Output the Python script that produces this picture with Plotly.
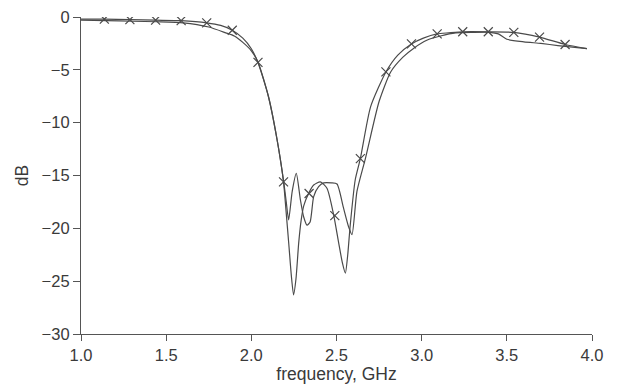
import plotly.graph_objects as go

# Curve with markers (deep notches)
freq_b = [1.0, 1.137, 1.287, 1.438, 1.588, 1.738, 1.82, 1.888, 1.95, 2.0, 2.039, 2.1, 2.15,
          2.189, 2.2035, 2.22, 2.235, 2.248, 2.262, 2.278, 2.292, 2.307, 2.336, 2.366, 2.405,
          2.444, 2.483, 2.513, 2.535, 2.552, 2.566, 2.58, 2.61, 2.64, 2.70, 2.79, 2.86, 2.94,
          3.01, 3.09, 3.16, 3.241, 3.391, 3.541, 3.692, 3.842, 3.97]
db_b = [-0.2, -0.2, -0.25, -0.3, -0.35, -0.55, -0.8, -1.25, -2.0, -3.0, -4.3, -7.5, -11.5,
        -15.6, -18.3, -21.5, -24.5, -26.3, -24.8, -21.4, -19.3, -17.9, -16.7, -15.9, -15.6,
        -16.2, -18.7, -21.4, -23.3, -24.25, -22.5, -19.8, -15.4, -13.4, -8.5, -5.2, -3.6, -2.55,
        -2.0, -1.6, -1.5, -1.4, -1.4, -1.45, -1.9, -2.6, -3.0]

# Marker positions on that curve
mark_x = [1.137, 1.287, 1.438, 1.588, 1.738, 1.888, 2.039, 2.189, 2.339, 2.490, 2.640,
          2.790, 2.940, 3.091, 3.241, 3.391, 3.541, 3.692, 3.842]
mark_y = [-0.2, -0.25, -0.3, -0.35, -0.55, -1.25, -4.3, -15.6, -16.7, -18.8, -13.4,
          -5.2, -2.55, -1.6, -1.4, -1.4, -1.45, -1.9, -2.6]

# Curve without markers
freq_a = [1.0, 1.15, 1.3, 1.45, 1.6, 1.75, 1.85, 1.9, 1.95, 2.0, 2.04, 2.1, 2.15, 2.19,
          2.205, 2.219, 2.24, 2.264, 2.288, 2.307, 2.327, 2.345, 2.366, 2.395, 2.425, 2.47,
          2.503, 2.54, 2.57, 2.591, 2.62, 2.671, 2.75, 2.818, 2.89, 2.958, 3.03, 3.11, 3.2,
          3.3, 3.4, 3.45, 3.5, 3.6, 3.7, 3.8, 3.97]
db_a = [-0.3, -0.35, -0.4, -0.45, -0.55, -0.95, -1.5, -1.8, -2.4, -3.2, -4.3, -7.5, -11.5,
        -15.6, -17.5, -19.2, -16.5, -14.8, -17.3, -18.9, -19.7, -19.4, -17.0, -16.05, -15.7,
        -15.7, -15.8, -18.0, -19.8, -20.6, -16.5, -13.3, -8.0, -5.2, -3.8, -2.9, -2.2, -1.8,
        -1.5, -1.45, -1.45, -1.6, -2.1, -2.35, -2.5, -2.7, -3.0]

x_ticks = [1.0, 1.5, 2.0, 2.5, 3.0, 3.5, 4.0]
x_tick_labels = ["1.0", "1.5", "2.0", "2.5", "3.0", "3.5", "4.0"]
y_ticks = [0, -5, -10, -15, -20, -25, -30]
y_tick_labels = ["0", "\u22125", "\u221210", "\u221215", "\u221220", "\u221225", "\u221230"]

line_col = "#4a4a4a"
fig = go.Figure()
fig.add_trace(go.Scatter(x=freq_a, y=db_a, mode="lines",
                         line=dict(color=line_col, width=1.2, shape="spline", smoothing=0.6),
                         showlegend=False))
fig.add_trace(go.Scatter(x=freq_b, y=db_b, mode="lines",
                         line=dict(color=line_col, width=1.2, shape="spline", smoothing=0.6),
                         showlegend=False))
fig.add_trace(go.Scatter(x=mark_x, y=mark_y, mode="markers",
                         marker=dict(symbol="x-thin-open", size=9, color=line_col,
                                     line=dict(color=line_col, width=1.2)),
                         showlegend=False))

tfont = dict(family="Liberation Sans, Arial, sans-serif", size=16.5, color="#3a3a3a")
font = dict(family="Liberation Sans, Arial, sans-serif", size=17.5, color="#3a3a3a")
# page body adds an 8px margin, so the figure is sized and placed to compensate
fig.update_layout(
    width=611, height=376,
    margin=dict(l=73, r=27, t=9, b=50),
    paper_bgcolor="white", plot_bgcolor="white",
    font=font,
    xaxis=dict(range=[1.0, 4.0], tickvals=x_ticks, ticktext=x_tick_labels,
               showgrid=False, zeroline=False, showline=True, linecolor="#555555",
               linewidth=1.2, ticks="outside", ticklen=6, tickcolor="#555555",
               tickfont=tfont, automargin=False, ticklabeloverflow="allow",
               title=dict(text="frequency, GHz", font=font, standoff=3)),
    yaxis=dict(range=[-30, 0], tickvals=y_ticks, ticktext=y_tick_labels,
               showgrid=False, zeroline=False, showline=True, linecolor="#555555",
               linewidth=1.2, ticks="outside", ticklen=7, tickcolor="#555555",
               tickfont=tfont, automargin=False, ticklabeloverflow="allow",
               title=dict(text="dB", font=font, standoff=8)),
)
fig.write_html("out.html")
